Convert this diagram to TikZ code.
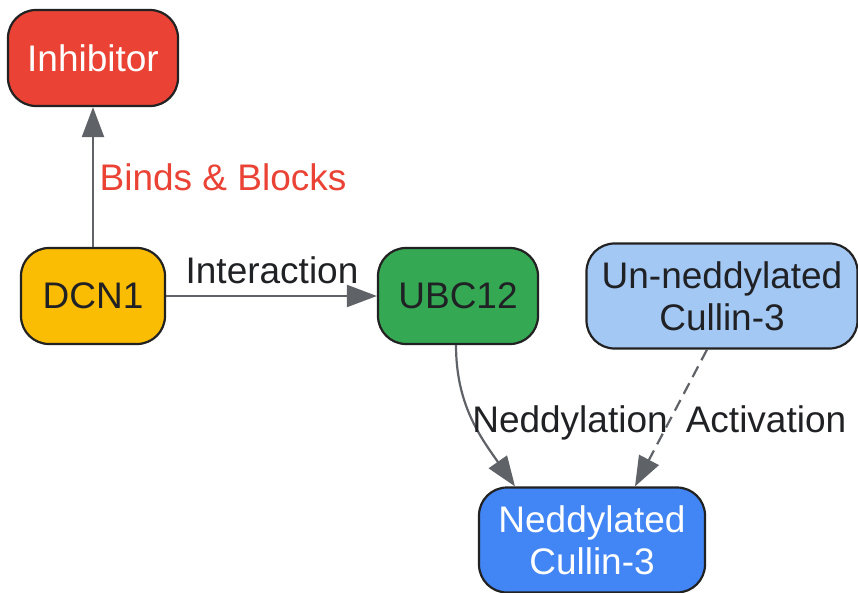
\documentclass[tikz,border=0pt]{standalone}
\usepackage{fontspec}
\setmainfont{Liberation Sans}
\usetikzlibrary{arrows.meta,calc}
\definecolor{cred}{HTML}{EA4335}
\definecolor{cyel}{HTML}{FBBC04}
\definecolor{cgrn}{HTML}{34A853}
\definecolor{clbl}{HTML}{A4C8F4}
\definecolor{cblu}{HTML}{4285F4}
\definecolor{cedge}{HTML}{5F6368}
\definecolor{ctxt}{HTML}{202124}
\definecolor{cbord}{HTML}{222222}
\begin{document}
\begin{tikzpicture}[x=1pt,y=-1pt,
  box/.style={draw=cbord,line width=2.2pt,rounded corners=28pt,align=center,
    font=\fontsize{37}{42}\selectfont,text=ctxt,inner sep=0pt},
  conn/.style={draw=cedge,line width=2.2pt,-{Triangle[width=22pt,length=30pt]}},
  lbl/.style={font=\fontsize{37}{42}\selectfont,text=ctxt,inner sep=0pt}]
\useasboundingbox (0,0) rectangle (858,593);
\node[box,fill=cred,text=white,minimum width=170pt,minimum height=96pt] (inh) at (93,58) {Inhibitor};
\node[box,fill=cyel,minimum width=144pt,minimum height=96pt] (dcn) at (93,296) {DCN1};
\node[box,fill=cgrn,minimum width=160pt,minimum height=96pt] (ubc) at (458,296) {UBC12};
\node[box,fill=clbl,minimum width=271pt,minimum height=105pt] (unc) at (722,296) {Un-neddylated\\Cullin-3};
\node[box,fill=cblu,text=white,minimum width=226pt,minimum height=105pt] (nec) at (592,540) {Neddylated\\Cullin-3};
\coordinate (nedin) at ($(nec.north)+(-77,0)$);
\coordinate (actout) at ($(unc.south)+(-15,0)$);
\coordinate (actin) at ($(nec.north)+(43,0)$);
\draw[conn] (dcn.north) -- (inh.south);
\node[lbl,text=cred] (lb) at (223,177) {Binds \& Blocks};
\draw[conn] (dcn.east) -- (ubc.west);
\node[lbl] (li) at (272,270) {Interaction};
\draw[conn] ($(ubc.south)+(-2,0)$) to[out=-90,in=125] (nedin);
\node[lbl,anchor=base] (ln) at (570,432) {Neddylation};
\draw[conn,dash pattern=on 12pt off 7pt] (actout) -- (actin);
\node[lbl,anchor=base] (la) at (766,432) {Activation};
\end{tikzpicture}
\end{document}
